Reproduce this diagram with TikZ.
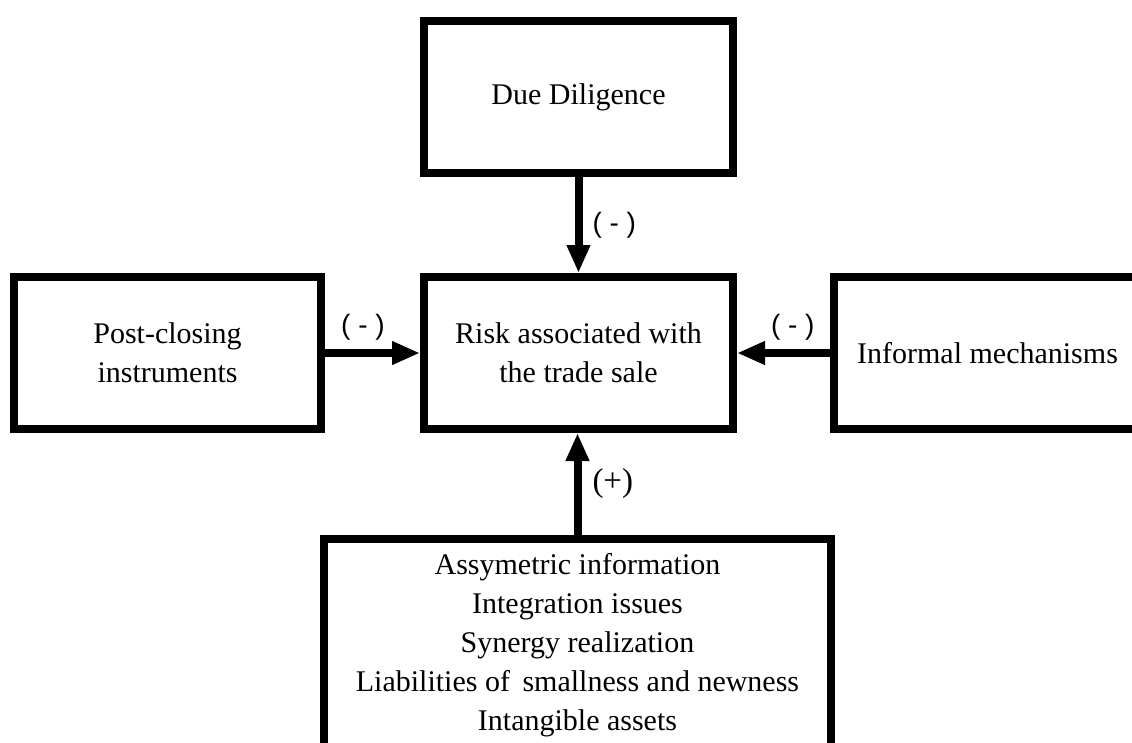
\documentclass[tikz,border=0pt]{standalone}
\usepackage{fontspec}
\setmainfont{Liberation Serif}
\newfontfamily\signfont{Liberation Sans}
\usetikzlibrary{arrows.meta}
\begin{document}
\begin{tikzpicture}[x=1pt,y=-1pt,
  box/.style={draw, line width=8pt, align=center, inner sep=0pt,
    font=\fontsize{30}{39}\selectfont},
  link/.style={line width=8pt, -{Triangle[length=28pt,width=22pt]}},
  sign/.style={font=\signfont\fontsize{28}{32}\selectfont, inner sep=0pt},
  plus/.style={font=\fontsize{33}{36}\selectfont, inner sep=0pt}]
\useasboundingbox (0,0) rectangle (1132,742);
\clip (0,0) rectangle (1132,742);

% boxes
\node[box, minimum width=309pt, minimum height=152pt] (dd) at (578.5,97)
  {\raisebox{-4pt}{Due Diligence}};
\node[box, minimum width=309pt, minimum height=152pt] (risk) at (578.5,353)
  {Risk associated with\\the trade sale};
\node[box, minimum width=307pt, minimum height=152pt] (pc) at (167.5,353)
  {Post-closing\\instruments};
\node[box, minimum width=307pt, minimum height=152pt] (im) at (987.5,353)
  {Informal mechanisms};
\node[box, minimum width=507pt, minimum height=212pt] (drv) at (577.5,645)
  {Assymetric information\\Integration issues\\Synergy realization\\
   Liabilities of\, smallness and newness\\Intangible assets};

% influences
\draw[link] (dd) -- node[sign, pos=0.5, right=10pt] (s1) {( - )} (risk);
\draw[link] (pc) -- node[sign, pos=0.4, above=9pt] (s2) {( - )} (risk);
\draw[link] (im) -- node[sign, pos=0.4, above=9pt] (s3) {( - )} (risk);
\draw[link] (drv.north) -- node[plus, pos=0.5, right=11pt] (s4) {(+)} (drv.north |- risk.south);
\end{tikzpicture}
\end{document}
